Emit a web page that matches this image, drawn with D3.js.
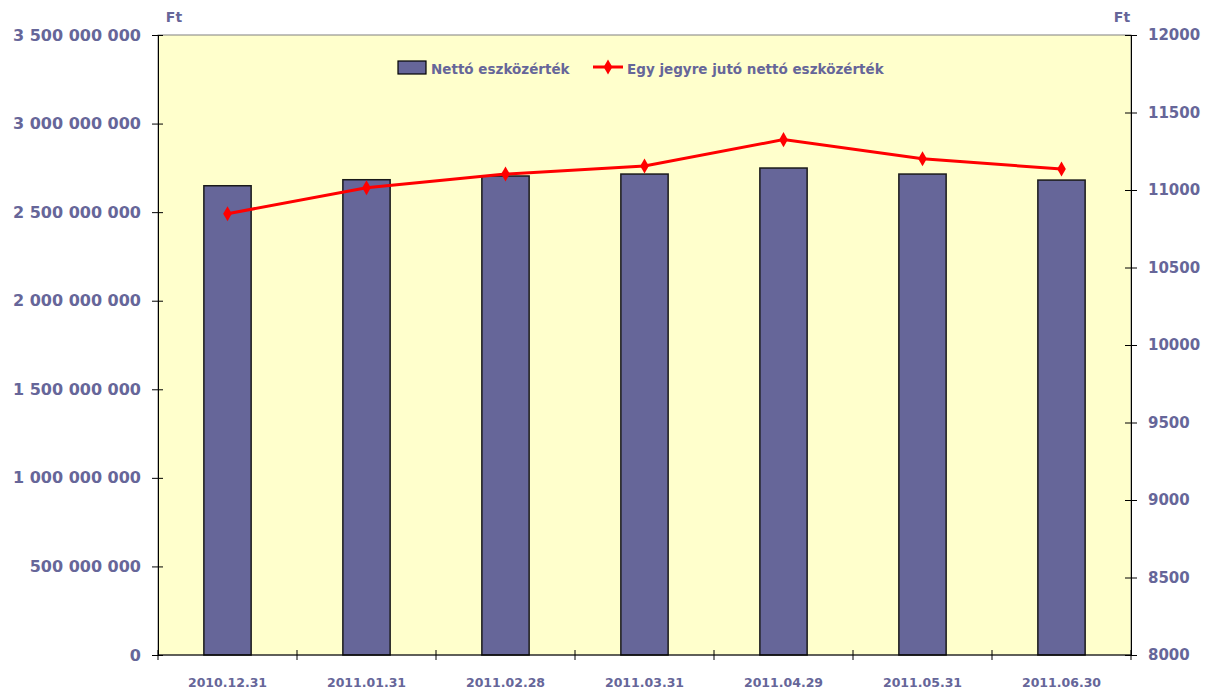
<!DOCTYPE html>
<html>
<head>
<meta charset="utf-8">
<script src="https://cdn.jsdelivr.net/npm/d3@7"></script>
<style>
  body { margin: 0; background: #fff; }
  text { font-family: "DejaVu Sans", sans-serif; font-weight: bold; fill: #666699; }
</style>
</head>
<body>
<script>
// data
var dates = ["2010.12.31", "2011.01.31", "2011.02.28", "2011.03.31", "2011.04.29", "2011.05.31", "2011.06.30"]
var nettoEszkozertek = [2649000000, 2683000000, 2704000000, 2715000000, 2749000000, 2715000000, 2681000000]
var egyJegyre = [10847, 11015, 11103, 11155, 11325, 11202, 11135]
var leftTicks = [0, 500000000, 1000000000, 1500000000, 2000000000, 2500000000, 3000000000, 3500000000]
var rightTicks = [8000, 8500, 9000, 9500, 10000, 10500, 11000, 11500, 12000]

var W = 1213, H = 691
var margin = {top: 35, right: 82, bottom: 36, left: 158},
    w = W - margin.left - margin.right,
    h = H - margin.top - margin.bottom

var svg = d3.select("body").append("svg")
  .attr("width", W).attr("height", H)

var g = svg.append("g")
  .attr("transform", "translate(" + margin.left + "," + margin.top + ")")

//scales
var xScale = d3.scaleBand().domain(dates).range([0, w]).paddingInner(0).paddingOuter(0)
var yLeft = d3.scaleLinear().domain([0, 3500000000]).range([h, 0])
var yRight = d3.scaleLinear().domain([8000, 12000]).range([h, 0])

//plot area background
g.append("rect")
  .attr("width", w).attr("height", h)
  .attr("fill", "#FFFFCC")
  .attr("stroke", "#808080").attr("stroke-width", 1)

//space separated thousands
function spaced(v) {
  return d3.format(",")(v).replace(/,/g, " ")
}

//bars
var barW = xScale.bandwidth() * 0.34
g.selectAll(".bar")
  .data(nettoEszkozertek)
  .enter()
  .append("rect")
  .attr("class", "bar")
  .attr("x", function(d, i) { return xScale(dates[i]) + (xScale.bandwidth() - barW) / 2 })
  .attr("y", function(d) { return yLeft(d) })
  .attr("width", barW)
  .attr("height", function(d) { return h - yLeft(d) })
  .attr("fill", "#666699")
  .attr("stroke", "#1a1a1a").attr("stroke-width", 1.5)

//left axis
var axL = g.append("g")
  .call(d3.axisLeft(yLeft).tickValues(leftTicks).tickFormat(spaced).tickSize(6).tickPadding(11))
axL.selectAll("text").style("font-size", "16px")
axL.selectAll(".tick line").attr("x1", -6).attr("x2", 5)

//right axis
var axR = g.append("g")
  .attr("transform", "translate(" + w + ",0)")
  .call(d3.axisRight(yRight).tickValues(rightTicks).tickFormat(d3.format("d")).tickSize(6).tickPadding(11))
axR.selectAll("text").style("font-size", "15px")
axR.selectAll(".tick line").attr("x1", -6).attr("x2", 6)

//bottom axis, ticks at category boundaries
var bottom = g.append("g").attr("transform", "translate(0," + h + ")")
bottom.append("line").attr("x1", 0).attr("x2", w).attr("stroke", "#000")
var bounds = dates.map(function(d) { return xScale(d) }).concat([w])
bottom.selectAll(".btick").data(bounds).enter().append("line")
  .attr("x1", function(d) { return d }).attr("x2", function(d) { return d })
  .attr("y1", -5).attr("y2", 5).attr("stroke", "#000")
bottom.selectAll(".blabel").data(dates).enter().append("text")
  .attr("x", function(d) { return xScale(d) + xScale.bandwidth() / 2 })
  .attr("y", 31.5)
  .attr("text-anchor", "middle")
  .style("font-size", "12.5px")
  .text(function(d) { return d })

axL.select(".domain").attr("stroke", "#000")
axR.select(".domain").attr("stroke", "#000")
g.selectAll(".tick line").attr("stroke", "#000")

//line series
var line = d3.line()
  .x(function(d, i) { return xScale(dates[i]) + xScale.bandwidth() / 2 })
  .y(function(d) { return yRight(d) })
g.append("path")
  .datum(egyJegyre)
  .attr("d", line)
  .attr("fill", "none")
  .attr("stroke", "#FF0000").attr("stroke-width", 3)

var diamond = d3.symbol().type(d3.symbolDiamond).size(65)
g.selectAll(".pt")
  .data(egyJegyre)
  .enter()
  .append("path")
  .attr("d", diamond)
  .attr("transform", function(d, i) {
    return "translate(" + (xScale(dates[i]) + xScale.bandwidth() / 2) + "," + yRight(d) + ")"
  })
  .attr("fill", "#FF0000")

//Ft units
svg.append("text").attr("x", 174).attr("y", 22).attr("text-anchor", "middle").style("font-size", "14px").text("Ft")
svg.append("text").attr("x", 1122).attr("y", 22).attr("text-anchor", "middle").style("font-size", "14px").text("Ft")

//legend
var leg = svg.append("g")
leg.append("rect").attr("x", 398).attr("y", 61).attr("width", 28).attr("height", 13)
  .attr("fill", "#666699").attr("stroke", "#000").attr("stroke-width", 1.2)
leg.append("text").attr("x", 431).attr("y", 74).style("font-size", "13.5px").text("Nettó eszközérték")
leg.append("line").attr("x1", 593).attr("x2", 623).attr("y1", 67).attr("y2", 67)
  .attr("stroke", "#FF0000").attr("stroke-width", 3)
leg.append("path").attr("d", diamond).attr("transform", "translate(608,67)").attr("fill", "#FF0000")
leg.append("text").attr("x", 627).attr("y", 74).style("font-size", "13.5px").text("Egy jegyre jutó nettó eszközérték")
</script>
</body>
</html>
